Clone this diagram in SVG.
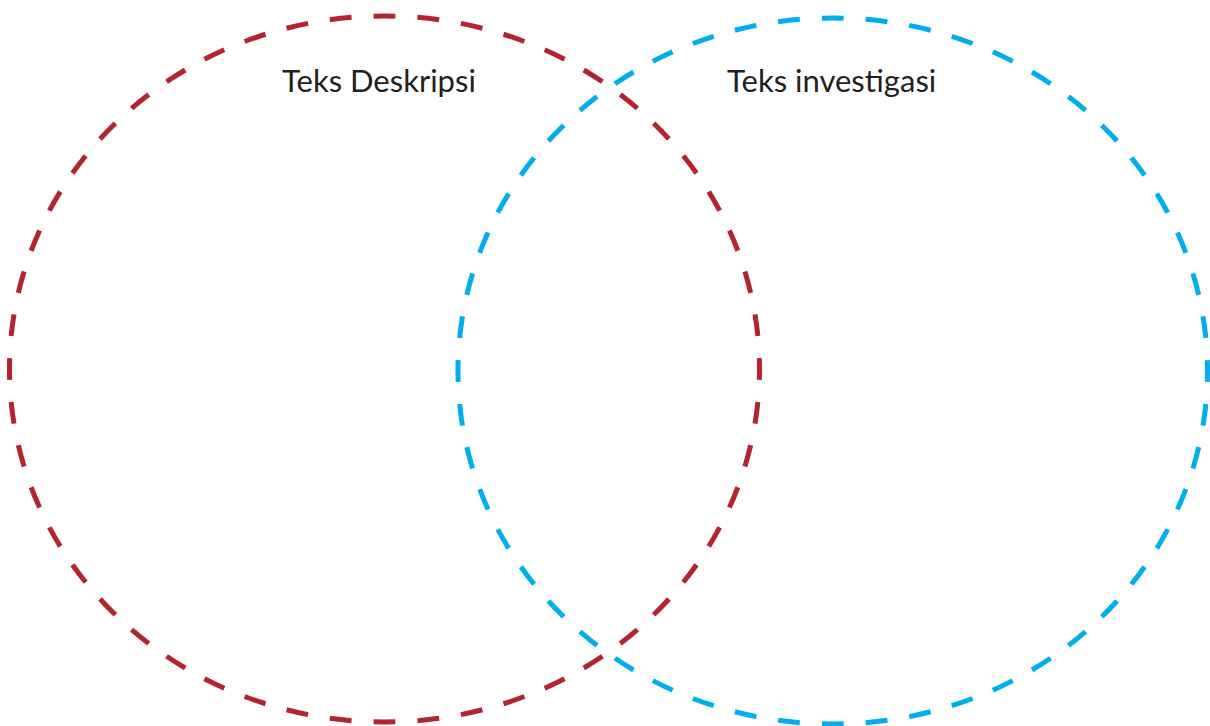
<svg xmlns="http://www.w3.org/2000/svg" width="1210" height="726" viewBox="0 0 1210 726">
<style>
.ring{fill:none;stroke-width:5;stroke-dasharray:22 22;stroke-dashoffset:11}
.red{stroke:#B5232F}
.blue{stroke:#00AEEF}
.lbl{font-family:Lato,"Open Sans",sans-serif;font-size:31px;fill:#231F20}
</style>
<rect width="1210" height="726" fill="#FFFFFF"/>
<g id="deskripsi">
<ellipse class="ring red" cx="384.5" cy="369" rx="375" ry="353" pathLength="2288"/>
<text class="lbl" x="282" y="92">Teks Deskripsi</text>
</g>
<g id="investigasi">
<ellipse class="ring blue" cx="832.75" cy="371" rx="374.75" ry="353" pathLength="2288"/>
<text class="lbl" x="727" y="92">Teks investigasi</text>
</g>
<g id="connectors"></g>
</svg>
